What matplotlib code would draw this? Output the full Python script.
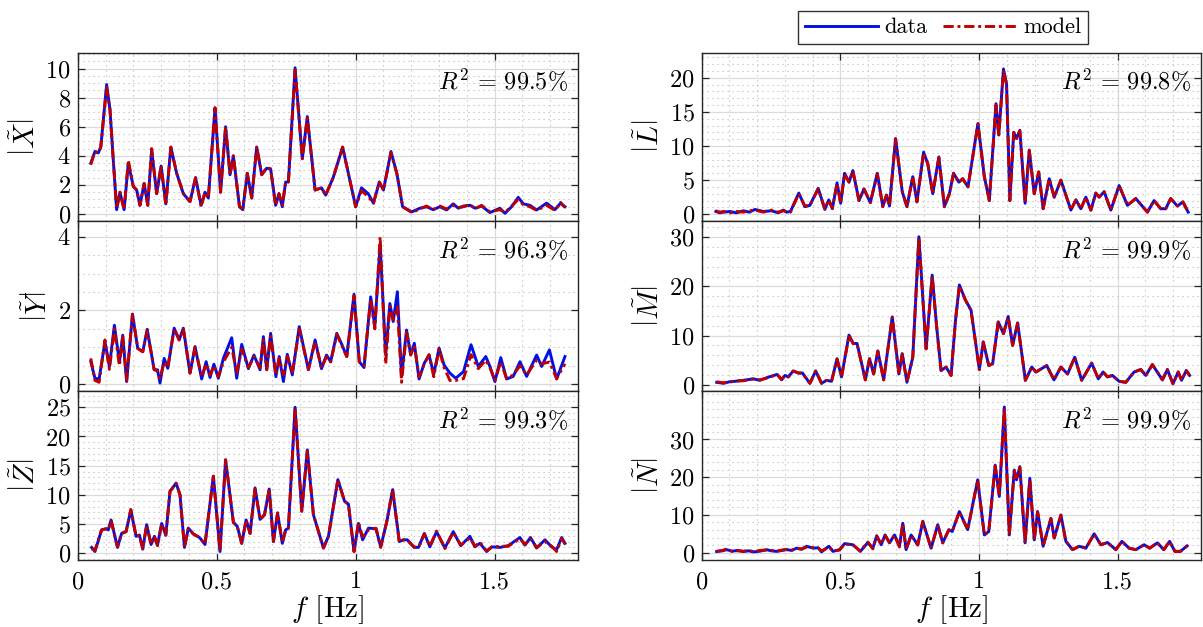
import matplotlib
matplotlib.use('Agg')
import matplotlib.pyplot as plt
from matplotlib.ticker import MultipleLocator, FixedLocator

plt.rcParams['font.family'] = 'serif'
plt.rcParams['font.serif'] = ['cmr10', 'DejaVu Serif']
plt.rcParams['mathtext.fontset'] = 'cm'
plt.rcParams['axes.unicode_minus'] = False
plt.rcParams['axes.formatter.use_mathtext'] = True

# ---------------- data ----------------
f_X = [0.047, 0.062, 0.074, 0.083, 0.104, 0.116, 0.128, 0.140, 0.152, 0.167, 0.182, 0.200, 0.212, 0.224, 0.239,
       0.252, 0.266, 0.284, 0.300, 0.317, 0.335, 0.356, 0.380, 0.404, 0.424, 0.444, 0.458, 0.470, 0.494, 0.514,
       0.532, 0.548, 0.560, 0.582, 0.594, 0.610, 0.626, 0.644, 0.662, 0.680, 0.694, 0.712, 0.724, 0.736, 0.748,
       0.758, 0.782, 0.808, 0.826, 0.854, 0.877, 0.892, 0.919, 0.953, 1.000, 1.021, 1.045, 1.064, 1.085, 1.100,
       1.127, 1.148, 1.169, 1.202, 1.231, 1.255, 1.279, 1.303, 1.327, 1.351, 1.369, 1.388, 1.412, 1.430, 1.453,
       1.483, 1.519, 1.537, 1.561, 1.585, 1.603, 1.627, 1.651, 1.687, 1.717, 1.737, 1.753]
data_X = [3.5, 4.3, 4.2, 4.6, 8.9, 7.2, 3.7, 0.3, 1.5, 0.3, 3.5, 1.9, 1.65, 0.6, 2.1,
          0.6, 4.4, 1.4, 3.3, 0.7, 4.6, 2.8, 1.4, 0.85, 2.5, 0.6, 1.5, 1.1, 7.3, 1.5,
          6.0, 2.7, 4.0, 0.5, 0.3, 2.8, 1.1, 4.6, 2.7, 3.15, 3.1, 0.6, 1.4, 0.5, 2.2,
          2.2, 10.05, 3.8, 6.7, 1.65, 1.8, 1.3, 2.5, 4.6, 0.5, 1.8, 1.4, 0.75, 2.2, 1.65,
          4.3, 2.8, 0.5, 0.15, 0.4, 0.5, 0.3, 0.5, 0.28, 0.7, 0.4, 0.55, 0.6, 0.4, 0.55,
          0.1, 0.4, 0.05, 0.5, 1.15, 0.7, 0.6, 0.28, 0.75, 0.3, 0.75, 0.5]
model_X = [3.4, 4.3, 4.2, 4.6, 8.7, 7.2, 3.7, 0.4, 1.5, 0.3, 3.7, 1.9, 1.65, 0.6, 2.1,
           0.6, 4.5, 1.4, 3.3, 0.6, 4.6, 2.8, 1.4, 0.85, 2.5, 0.5, 1.5, 1.1, 7.3, 1.5,
           6.0, 2.7, 4.0, 0.5, 0.4, 2.8, 1.1, 4.6, 2.7, 3.2, 3.1, 0.6, 1.4, 0.6, 2.2,
           2.2, 9.9, 3.8, 6.6, 1.65, 1.8, 1.3, 2.5, 4.6, 0.5, 1.6, 1.2, 0.75, 2.2, 1.65,
           4.2, 2.8, 0.5, 0.1, 0.35, 0.55, 0.3, 0.55, 0.35, 0.6, 0.45, 0.5, 0.65, 0.35, 0.6,
           0.15, 0.3, 0.1, 0.55, 1.0, 0.65, 0.5, 0.25, 0.6, 0.25, 0.8, 0.45]

f_Y = [0.047, 0.062, 0.077, 0.098, 0.114, 0.132, 0.150, 0.162, 0.176, 0.197, 0.216, 0.234, 0.250, 0.275, 0.287,
       0.296, 0.311, 0.324, 0.347, 0.365, 0.380, 0.404, 0.422, 0.446, 0.462, 0.476, 0.490, 0.506, 0.524, 0.554,
       0.572, 0.590, 0.614, 0.634, 0.656, 0.668, 0.680, 0.694, 0.713, 0.725, 0.740, 0.754, 0.772, 0.797, 0.830,
       0.854, 0.877, 0.895, 0.910, 0.932, 0.950, 0.968, 0.994, 1.013, 1.030, 1.054, 1.069, 1.088, 1.108, 1.123,
       1.135, 1.150, 1.165, 1.183, 1.198, 1.211, 1.228, 1.247, 1.264, 1.281, 1.300, 1.318, 1.339, 1.360, 1.388,
       1.415, 1.441, 1.468, 1.483, 1.501, 1.522, 1.543, 1.567, 1.591, 1.615, 1.651, 1.669, 1.697, 1.723, 1.753]
data_Y = [0.61, 0.16, 0.14, 1.15, 0.48, 1.6, 0.6, 1.33, 0.07, 1.9, 0.97, 0.88, 1.49, 0.39, 0.39,
          0.03, 0.7, 0.43, 1.52, 1.2, 1.52, 0.3, 1.02, 0.14, 0.61, 0.18, 0.54, 0.16, 0.7, 1.26,
          0.16, 1.08, 0.42, 0.79, 0.39, 1.29, 0.39, 1.38, 0.2, 0.75, 0.07, 0.81, 0.25, 1.56, 0.39,
          1.2, 0.42, 0.79, 0.61, 1.38, 1.08, 0.75, 2.44, 0.61, 0.45, 2.37, 1.56, 3.8, 0.79, 2.19,
          1.7, 2.51, 0.21, 1.47, 0.79, 1.11, 0.14, 0.57, 0.79, 0.27, 0.98, 0.52, 0.3, 0.16, 0.34,
          1.07, 0.48, 0.75, 0.48, 0.07, 0.72, 0.14, 0.21, 0.61, 0.21, 0.79, 0.48, 0.93, 0.14, 0.75]
model_Y = [0.7, 0.1, 0.05, 1.2, 0.4, 1.5, 0.5, 1.3, 0.1, 1.9, 0.97, 0.88, 1.45, 0.4, 0.35,
           0.15, 0.6, 0.45, 1.5, 1.2, 1.5, 0.3, 1.0, 0.2, 0.55, 0.25, 0.5, 0.2, 0.6, 1.0,
           0.3, 0.95, 0.45, 0.75, 0.45, 1.2, 0.4, 1.3, 0.25, 0.7, 0.25, 0.75, 0.3, 1.5, 0.4,
           1.15, 0.45, 0.75, 0.6, 1.35, 1.05, 0.75, 2.4, 0.6, 0.5, 2.3, 1.5, 4.0, 0.55, 2.1,
           1.75, 2.1, 0.05, 1.4, 0.8, 1.05, 0.2, 0.55, 0.8, 0.2, 0.95, 0.45, 0.1, 0.1, 0.15,
           0.8, 0.42, 0.65, 0.45, 0.1, 0.6, 0.15, 0.25, 0.5, 0.25, 0.65, 0.55, 0.6, 0.15, 0.55]

f_Z = [0.050, 0.062, 0.086, 0.102, 0.110, 0.120, 0.143, 0.158, 0.174, 0.191, 0.210, 0.222, 0.234, 0.248, 0.264,
       0.276, 0.287, 0.302, 0.317, 0.332, 0.354, 0.368, 0.384, 0.398, 0.416, 0.438, 0.458, 0.488, 0.512, 0.532,
       0.560, 0.574, 0.590, 0.606, 0.620, 0.638, 0.656, 0.672, 0.689, 0.704, 0.719, 0.736, 0.748, 0.758, 0.782,
       0.806, 0.826, 0.848, 0.884, 0.902, 0.936, 0.960, 0.974, 0.994, 1.010, 1.025, 1.046, 1.073, 1.090, 1.112,
       1.133, 1.157, 1.172, 1.186, 1.210, 1.226, 1.247, 1.267, 1.291, 1.321, 1.351, 1.378, 1.411, 1.429, 1.447,
       1.471, 1.489, 1.519, 1.549, 1.591, 1.609, 1.629, 1.651, 1.681, 1.705, 1.723, 1.741, 1.753]
data_Z = [1.0, 0.3, 4.0, 4.2, 4.0, 5.7, 1.0, 3.4, 3.7, 7.4, 2.9, 3.1, 0.7, 4.9, 1.5,
          2.9, 1.4, 5.1, 3.1, 10.6, 12.0, 10.0, 1.0, 4.3, 3.3, 2.7, 1.5, 13.2, 0.3, 16.0,
          5.3, 4.6, 1.7, 5.7, 3.4, 11.2, 5.8, 6.6, 11.0, 2.0, 6.9, 1.7, 4.0, 4.3, 25.0,
          7.2, 17.7, 6.6, 0.9, 2.9, 12.6, 8.9, 8.4, 0.3, 5.1, 2.3, 4.3, 4.2, 1.1, 5.4,
          10.9, 2.0, 2.3, 2.3, 1.0, 1.0, 3.4, 1.1, 3.7, 0.9, 3.7, 1.3, 2.9, 1.1, 1.7,
          0.3, 1.1, 1.0, 1.3, 2.7, 1.4, 2.7, 0.9, 2.3, 1.1, 0.6, 2.7, 1.7]
model_Z = [0.8, 0.5, 4.0, 4.2, 4.1, 5.6, 1.1, 3.4, 3.7, 7.5, 2.9, 3.1, 0.8, 4.8, 1.5,
           2.9, 1.3, 5.0, 3.1, 10.6, 12.0, 10.0, 1.0, 4.3, 3.3, 2.7, 1.6, 13.2, 0.3, 16.0,
           5.3, 4.6, 1.7, 5.7, 3.4, 11.0, 5.8, 6.6, 11.0, 2.0, 6.9, 1.8, 4.0, 4.3, 24.8,
           7.2, 17.5, 6.6, 0.9, 2.9, 12.6, 8.9, 8.4, 0.3, 5.3, 2.8, 4.0, 4.3, 1.0, 5.5,
           10.9, 1.9, 2.3, 2.2, 1.1, 1.0, 3.3, 1.2, 3.8, 0.8, 3.6, 1.4, 2.6, 1.2, 1.9,
           0.4, 1.0, 1.2, 1.2, 2.5, 1.5, 2.5, 1.0, 2.0, 1.2, 0.3, 2.5, 1.6]

f_L = [0.051, 0.065, 0.078, 0.102, 0.125, 0.150, 0.172, 0.192, 0.222, 0.252, 0.276, 0.294, 0.306, 0.320, 0.350,
       0.372, 0.390, 0.420, 0.444, 0.458, 0.471, 0.488, 0.501, 0.515, 0.531, 0.545, 0.567, 0.585, 0.608, 0.633,
       0.653, 0.666, 0.677, 0.699, 0.723, 0.740, 0.761, 0.776, 0.800, 0.815, 0.833, 0.855, 0.875, 0.893, 0.908,
       0.927, 0.941, 0.960, 0.996, 1.019, 1.037, 1.061, 1.071, 1.088, 1.099, 1.111, 1.125, 1.135, 1.147, 1.166,
       1.181, 1.199, 1.215, 1.231, 1.253, 1.271, 1.295, 1.331, 1.349, 1.367, 1.385, 1.403, 1.421, 1.433, 1.451,
       1.475, 1.505, 1.535, 1.565, 1.607, 1.631, 1.655, 1.673, 1.691, 1.715, 1.735, 1.754]
data_L = [0.4, 0.2, 0.3, 0.4, 0.2, 0.5, 0.3, 0.7, 0.4, 0.5, 0.2, 0.6, 0.3, 0.4, 3.1,
          1.1, 1.3, 3.8, 0.7, 2.1, 0.8, 4.6, 1.6, 6.0, 4.7, 6.4, 2.0, 3.7, 1.7, 6.0,
          1.1, 2.8, 1.2, 11.1, 3.3, 1.1, 5.5, 1.8, 9.1, 7.4, 3.0, 8.4, 1.1, 3.0, 6.0,
          4.7, 5.2, 4.0, 13.3, 5.5, 2.0, 16.2, 11.6, 21.3, 19.1, 2.0, 12.0, 11.1, 12.3, 1.6,
          9.4, 3.0, 6.2, 0.8, 5.2, 2.5, 5.0, 0.6, 2.1, 0.8, 2.5, 0.6, 3.1, 2.5, 3.3,
          0.6, 4.2, 1.3, 2.3, 0.3, 2.0, 0.8, 0.8, 2.3, 1.2, 1.8, 0.3]
model_L = [0.5, 0.3, 0.4, 0.2, 0.4, 0.3, 0.5, 0.6, 0.3, 0.6, 0.3, 0.5, 0.4, 0.3, 3.0,
           1.2, 1.3, 3.7, 0.8, 2.1, 0.9, 4.5, 1.6, 5.9, 4.7, 6.3, 2.0, 3.7, 1.7, 5.9,
           1.1, 2.8, 1.2, 11.0, 3.3, 1.1, 5.5, 1.8, 9.0, 7.4, 3.0, 8.3, 1.1, 3.0, 6.0,
           4.7, 5.2, 4.0, 13.2, 5.5, 2.0, 16.0, 11.4, 21.1, 19.0, 2.0, 12.0, 11.1, 12.2, 1.7,
           9.3, 3.0, 6.2, 0.8, 5.2, 2.5, 5.0, 0.6, 2.1, 0.8, 2.5, 0.6, 3.1, 2.5, 3.3,
           0.6, 4.2, 1.3, 2.3, 0.3, 2.0, 0.8, 0.8, 2.3, 1.2, 1.8, 0.3]

f_M = [0.054, 0.078, 0.100, 0.120, 0.150, 0.186, 0.210, 0.243, 0.272, 0.288, 0.300, 0.312, 0.330, 0.348, 0.363,
       0.390, 0.411, 0.432, 0.450, 0.468, 0.488, 0.504, 0.531, 0.546, 0.560, 0.590, 0.605, 0.620, 0.635, 0.656,
       0.687, 0.711, 0.723, 0.740, 0.761, 0.783, 0.800, 0.809, 0.831, 0.847, 0.863, 0.881, 0.899, 0.915, 0.929,
       0.951, 0.971, 1.001, 1.015, 1.035, 1.049, 1.069, 1.088, 1.105, 1.121, 1.139, 1.167, 1.190, 1.205, 1.244,
       1.270, 1.295, 1.319, 1.345, 1.370, 1.406, 1.430, 1.447, 1.463, 1.481, 1.505, 1.529, 1.559, 1.583, 1.601,
       1.625, 1.661, 1.679, 1.699, 1.718, 1.730, 1.747, 1.759]
data_M = [0.5, 0.3, 0.6, 0.7, 0.9, 1.2, 0.9, 1.6, 2.1, 1.0, 1.9, 1.6, 2.8, 2.4, 2.4,
          0.3, 2.8, 0.3, 0.9, 0.7, 5.3, 1.6, 10.1, 8.4, 8.4, 1.0, 5.3, 2.2, 6.9, 1.0,
          13.8, 2.2, 6.3, 0.5, 5.6, 30.1, 15.2, 7.3, 22.3, 11.8, 2.9, 3.6, 1.9, 13.1, 20.3,
          17.2, 15.2, 3.1, 8.7, 3.9, 4.3, 12.8, 10.4, 13.9, 8.0, 12.6, 0.9, 3.6, 2.6, 3.9,
          1.0, 3.6, 2.2, 5.6, 0.9, 4.4, 1.2, 2.6, 1.6, 1.9, 0.7, 0.5, 2.6, 3.1, 1.9,
          4.1, 1.0, 3.1, 0.2, 2.6, 0.9, 2.9, 1.9]
model_M = [0.6, 0.4, 0.5, 0.8, 0.8, 1.2, 1.0, 1.5, 2.1, 1.1, 1.8, 1.6, 2.8, 2.4, 2.3,
           0.3, 2.8, 0.3, 0.9, 0.7, 5.2, 1.6, 10.0, 8.4, 8.3, 1.0, 5.3, 2.2, 6.8, 1.0,
           13.7, 2.2, 6.3, 0.5, 5.6, 30.0, 15.2, 7.3, 22.1, 11.8, 2.9, 3.6, 1.9, 13.1, 20.1,
           17.2, 15.1, 3.1, 8.7, 3.9, 4.3, 12.7, 10.4, 13.8, 8.0, 12.5, 0.9, 3.6, 2.6, 3.9,
           1.0, 3.6, 2.2, 5.6, 0.9, 4.4, 1.2, 2.6, 1.6, 1.9, 0.7, 0.5, 2.6, 3.1, 1.9,
           4.1, 1.0, 3.1, 0.2, 2.6, 0.9, 2.9, 1.9]

f_N = [0.054, 0.075, 0.090, 0.110, 0.130, 0.150, 0.170, 0.186, 0.210, 0.234, 0.250, 0.270, 0.290, 0.306, 0.325,
       0.342, 0.360, 0.378, 0.402, 0.420, 0.432, 0.445, 0.459, 0.473, 0.497, 0.515, 0.545, 0.572, 0.599, 0.617,
       0.631, 0.647, 0.661, 0.677, 0.695, 0.713, 0.725, 0.737, 0.755, 0.779, 0.797, 0.827, 0.851, 0.869, 0.891,
       0.903, 0.929, 0.959, 0.995, 1.019, 1.035, 1.058, 1.073, 1.091, 1.109, 1.127, 1.135, 1.147, 1.166, 1.183,
       1.199, 1.211, 1.231, 1.259, 1.271, 1.295, 1.313, 1.337, 1.361, 1.385, 1.415, 1.439, 1.463, 1.493, 1.515,
       1.541, 1.565, 1.595, 1.615, 1.643, 1.666, 1.687, 1.706, 1.726, 1.750]
data_N = [0.3, 0.5, 0.8, 0.4, 0.6, 0.3, 0.5, 0.2, 0.4, 0.8, 0.5, 0.35, 0.6, 0.8, 0.6,
          1.2, 0.9, 1.7, 1.2, 1.3, 0.2, 1.0, 1.7, 0.35, 0.8, 2.4, 2.1, 0.35, 2.7, 1.2,
          4.5, 2.1, 4.7, 2.6, 4.7, 1.8, 7.8, 0.8, 4.7, 2.1, 8.3, 1.2, 7.4, 2.6, 6.1,
          5.6, 10.9, 6.1, 19.3, 4.7, 5.6, 23.2, 14.9, 38.6, 4.7, 21.9, 19.3, 22.8, 2.6, 19.7,
          3.4, 10.9, 1.7, 9.1, 3.9, 10.0, 3.0, 0.8, 1.7, 1.2, 5.0, 2.1, 2.7, 0.8, 3.0,
          1.2, 0.8, 2.1, 1.2, 2.6, 0.8, 3.0, 0.35, 0.35, 1.8]
model_N = [0.4, 0.6, 1.0, 0.3, 0.5, 0.4, 0.6, 0.3, 0.6, 0.7, 0.6, 0.4, 0.7, 0.9, 0.7,
           1.1, 1.0, 1.5, 1.3, 1.2, 0.5, 0.9, 1.5, 0.5, 0.7, 2.3, 2.1, 0.4, 2.8, 1.0,
           4.4, 2.2, 4.6, 2.7, 4.6, 1.5, 7.7, 0.8, 4.6, 2.0, 8.2, 1.2, 7.3, 2.6, 6.0,
           5.6, 10.8, 6.1, 19.2, 4.7, 5.6, 23.0, 14.9, 38.3, 4.7, 21.7, 19.3, 22.6, 2.6, 19.5,
           3.4, 10.8, 1.7, 9.0, 3.9, 9.9, 3.0, 0.8, 1.7, 1.2, 4.9, 2.1, 2.7, 0.8, 3.0,
           1.2, 0.8, 2.1, 1.2, 2.6, 0.8, 3.0, 0.35, 0.35, 1.8]

labels = [r'$\left|\tilde{X}\right|$', r'$\left|\tilde{Y}\right|$', r'$\left|\tilde{Z}\right|$',
          r'$\left|\tilde{L}\right|$', r'$\left|\tilde{M}\right|$', r'$\left|\tilde{N}\right|$']
r2 = ['99.5', '96.3', '99.3', '99.8', '99.9', '99.9']
yticks = [[0, 2, 4, 6, 8, 10], [0, 2, 4], [0, 5, 10, 15, 20, 25],
          [0, 5, 10, 15, 20], [0, 10, 20, 30], [0, 10, 20, 30]]

#======= layout / styling =========
blue = '#0010E6'
red = '#BF0000'

panels = [
	(f_X, data_X, model_X, (-0.48, 11.1), 0.5),
	(f_Y, data_Y, model_Y, (-0.2, 4.43), 0.5),
	(f_Z, data_Z, model_Z, (-1.15, 27.7), 1),
	(f_L, data_L, model_L, (-1.0, 23.7), 1),
	(f_M, data_M, model_M, (-1.37, 33.3), 2),
	(f_N, data_N, model_N, (-1.93, 42.7), 2),
]

lefts = [0.0646, 0.5833]
widths = [0.4159, 0.4150]
bottoms = [0.6475, 0.3756, 0.1069]
heights = [0.2687, 0.2719, 0.2687]

fig = plt.figure(figsize=(12.03, 6.27), dpi=100)

for i, (f, d, m, ylim, minor) in enumerate(panels):
	col, row = i // 3, i % 3
	ax = fig.add_axes([lefts[col], bottoms[row], widths[col], heights[row]])
	ax.plot(f, d, color=blue, lw=2.1, label='data', zorder=3)
	ax.plot(f, m, color=red, lw=2.1, ls=(0, (3.5, 1.3, 1.0, 1.3)), label='model', zorder=4)

	ax.set_xlim(0, 1.8)
	ax.set_ylim(*ylim)
	ax.xaxis.set_major_locator(MultipleLocator(0.5))
	ax.xaxis.set_minor_locator(MultipleLocator(0.1))
	ax.yaxis.set_major_locator(FixedLocator(yticks[i]))
	ax.yaxis.set_minor_locator(MultipleLocator(minor))

	ax.grid(which='major', color='0.86', lw=0.9, ls='-', zorder=0)
	ax.grid(which='minor', color='0.72', lw=0.8, ls=(0, (1, 3.5)), zorder=0)
	ax.set_axisbelow(True)

	ax.tick_params(which='major', direction='in', top=True, right=True, length=5,
		width=0.9, color='0.15', labelsize=17.5, pad=5)
	ax.tick_params(which='minor', length=0)
	ax.tick_params(axis='x', pad=8)
	for s in ax.spines.values():
		s.set_color('0.15')
		s.set_linewidth(1.0)

	if row < 2:
		ax.set_xticklabels([])
	else:
		ax.set_xticks([0, 0.5, 1, 1.5])
		ax.set_xticklabels(['0', '0.5', '1', '1.5'])
		ax.set_xlabel(r'$f$ [Hz]', fontsize=21, labelpad=0)
	ax.set_ylabel(labels[i], fontsize=21, labelpad=4)

	ax.text(0.979, 0.83, r'$R^2\,=\,%s\%%$' % r2[i], transform=ax.transAxes,
		ha='right', va='center', fontsize=17.5, zorder=6)

	if i == 0:
		handles, names = ax.get_legend_handles_labels()

fig.legend(handles, names, loc='center', bbox_to_anchor=(0.784, 0.956), ncol=2,
	frameon=True, fancybox=False, edgecolor='0.2', framealpha=1, fontsize=16,
	handlelength=3.3, handletextpad=0.3, columnspacing=0.7, borderpad=0.3)

fig.savefig('out.png', dpi=100)
